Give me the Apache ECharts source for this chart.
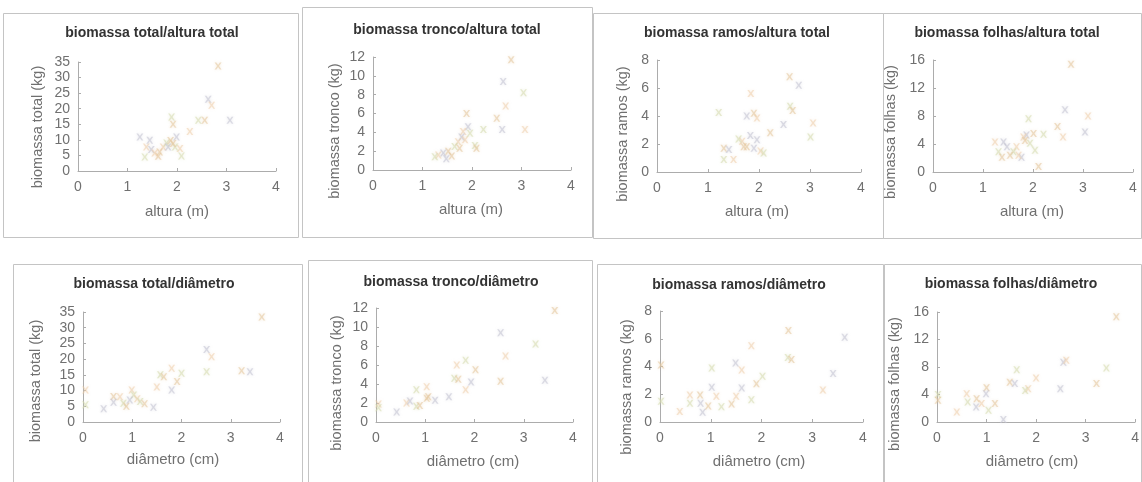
<!DOCTYPE html>
<html><head><meta charset="utf-8">
<script src="https://cdn.jsdelivr.net/npm/echarts@6/dist/echarts.min.js"></script>
<style>html,body{margin:0;padding:0;background:#fff}#c{width:1142px;height:482px}</style>
</head><body><div id="c"></div>
<script>
// ---- data ----
const titles = ['biomassa total/altura total','biomassa tronco/altura total','biomassa ramos/altura total','biomassa folhas/altura total',
                'biomassa total/diâmetro','biomassa tronco/diâmetro','biomassa ramos/diâmetro','biomassa folhas/diâmetro'];
const yNames = ['biomassa total (kg)','biomassa tronco (kg)','biomassa ramos (kg)','biomassa folhas (kg)',
                'biomassa total (kg)','biomassa tronco (kg)','biomassa ramos (kg)','biomassa folhas (kg)'];
const xNames = ['altura (m)','altura (m)','altura (m)','altura (m)','diâmetro (cm)','diâmetro (cm)','diâmetro (cm)','diâmetro (cm)'];
const yMax = [35, 12, 8, 16, 35, 12, 8, 16];
const yStep = [5, 2, 2, 4, 5, 2, 2, 4];
const xMax = 4, xStep = 1;

const totalAlturaX = [2.83,2.63,2.70,2.43,2.56,3.07,2.26,1.89,1.92,1.25,1.38,1.35,1.62,1.48,1.72,1.79,1.87,1.99,2.06,2.09,1.65,1.82,1.55,1.96,1.92,1.45];
const totalAlturaY = [33.7,23.0,21.1,16.3,16.3,16.3,12.7,17.3,15.0,10.9,7.7,4.5,4.7,6.9,7.7,9.0,9.8,10.9,7.2,4.8,6.1,7.7,5.8,7.7,8.8,9.9];
const troncoAlturaX = [2.79,2.63,2.68,3.04,2.50,2.61,3.07,2.23,1.89,1.92,1.82,2.06,2.09,1.79,1.72,1.65,1.52,1.42,1.32,1.25,1.59,1.48,1.86,1.96,1.75];
const troncoAlturaY = [11.7,9.4,6.8,8.2,5.5,4.3,4.3,4.3,6.0,4.6,4.1,2.6,2.3,3.5,3.0,2.5,2.0,1.8,1.6,1.4,1.5,1.2,3.2,3.9,2.3];
const ramosAlturaX = [2.60,2.78,1.84,1.21,1.90,1.76,1.96,2.61,2.66,2.48,3.06,3.01,2.22,1.83,1.67,1.60,1.76,1.90,2.03,2.09,1.31,1.41,1.50,1.31,1.70,1.96];
const ramosAlturaY = [6.8,6.2,5.6,4.25,4.2,4.0,3.85,4.7,4.4,3.4,3.5,2.5,2.8,2.6,2.2,2.35,1.8,1.7,1.5,1.35,1.7,1.6,0.9,0.9,1.8,2.3];
const folhasAlturaX = [2.76,2.64,3.10,1.91,2.49,3.04,2.60,2.21,2.01,1.87,1.81,2.04,2.11,1.77,1.67,1.61,1.54,1.41,1.24,1.31,1.38,1.48,1.71,1.94,1.84];
const folhasAlturaY = [15.4,8.9,8.0,7.6,6.5,5.7,5.0,5.4,5.5,5.3,5.0,3.1,0.8,2.1,3.6,2.9,2.4,4.3,4.3,2.9,2.1,3.6,2.4,4.1,4.5];
const totalDiamX = [3.63,2.51,2.61,2.51,3.22,3.39,1.80,2.00,1.91,1.80,1.50,1.57,1.64,1.43,0.99,1.03,0.62,0.62,0.75,0.82,0.88,0.95,1.10,1.16,1.25,0.42,0.05,0.05];
const totalDiamY = [33.4,23.1,20.8,16.0,16.3,16.0,17.1,15.5,12.9,10.2,11.1,15.0,14.4,4.7,10.2,8.6,8.1,6.3,8.0,6.0,5.0,7.0,7.4,6.5,5.8,4.2,10.2,5.5];
const troncoDiamX = [3.63,2.53,2.63,3.24,2.53,3.43,1.64,1.82,2.02,1.93,1.82,1.59,1.67,1.48,1.03,0.82,1.06,1.20,0.62,0.82,0.89,0.42,0.05,0.05,1.03,0.69];
const troncoDiamY = [11.75,9.4,6.95,8.2,4.3,4.4,6.0,6.5,5.5,4.2,3.4,4.6,4.5,2.65,3.7,3.4,2.65,2.3,2.0,1.65,1.75,1.05,1.9,1.5,2.5,2.2];
const ramosDiamX = [2.53,3.64,1.80,2.52,2.59,1.49,1.61,1.02,0.02,3.41,3.21,2.02,1.90,1.61,1.50,1.80,1.41,1.02,1.11,1.21,0.95,0.84,0.59,0.59,0.79,0.80,0.39,0.02];
const ramosDiamY = [6.6,6.1,5.5,4.65,4.5,4.25,3.75,3.9,4.1,3.5,2.3,3.3,2.75,2.45,1.85,1.6,1.3,2.5,1.85,1.1,1.15,0.7,1.95,1.35,1.95,1.35,0.75,1.5];
const folhasDiamX = [3.62,2.55,2.61,3.42,3.22,2.49,2.00,1.61,1.47,1.57,1.84,1.78,1.00,0.99,0.60,0.62,0.80,0.79,0.90,1.04,1.17,1.34,0.40,0.02,0.02];
const folhasDiamY = [15.3,8.7,9.0,7.85,5.6,4.85,6.4,7.6,5.8,5.6,4.85,4.6,5.0,4.1,4.1,2.9,3.4,2.2,2.7,1.7,2.7,0.35,1.45,4.0,3.15];

const seriesX = [totalAlturaX, troncoAlturaX, ramosAlturaX, folhasAlturaX, totalDiamX, troncoDiamX, ramosDiamX, folhasDiamX];
const seriesY = [totalAlturaY, troncoAlturaY, ramosAlturaY, folhasAlturaY, totalDiamY, troncoDiamY, ramosDiamY, folhasDiamY];

// ---- layout (pixels) ----
const box   = [[3,13,295,224],[302,7,290,230],[593,13,290,225],[883,13,258,225],
               [13,264,289,230],[308,260,284,234],[597,264,286,230],[884,264,257,230]];
const plots = [[78,62,198,109],[373,57,198,113],[657,60,204,112],[933,60,200,112],
               [83,312,197,110],[376,308,197,114],[660,311,203,111],[937,312,199,110]];
const titlePos = [[152,33],[447,30],[737,33],[1007,33],[154,284],[451,282],[739,285],[1011,284]];
const xNamePos = [[177,212],[471,210],[757,212],[1032,212],[173,460],[473,462],[759,462],[1032,462]];
const yNamePos = [[38,127],[335,131],[623,134],[891,132],[36,381],[337,383],[627,387],[895,384]];

const palette = ['rgba(228,200,158,0.7)','rgba(196,196,210,0.7)','rgba(238,206,168,0.65)','rgba(214,220,176,0.7)'];
const xMark = 'path://M0,0L2.5,0L5,3.5L7.5,0L10,0L6.3,5L10,10L7.5,10L5,6.5L2.5,10L0,10L3.7,5Z';

const FONT = '"Liberation Sans", Arial, sans-serif';
const grid = [], xAxis = [], yAxis = [], series = [], graphic = [];
for (let i = 0; i < 8; i++) {
  const [l,t,w,h] = plots[i];
  grid.push({left:l, top:t, width:w, height:h, containLabel:false});
  xAxis.push({type:'value', gridIndex:i, min:0, max:xMax, interval:xStep,
    axisLine:{show:true, onZero:false, lineStyle:{color:'#acacac', width:1}},
    axisTick:{show:true, inside:true, length:3, lineStyle:{color:'#acacac'}},
    splitLine:{show:false},
    axisLabel:{color:'#707070', fontSize:14, fontFamily:FONT, margin:9}});
  yAxis.push({type:'value', gridIndex:i, min:0, max:yMax[i], interval:yStep[i],
    axisLine:{show:true, onZero:false, lineStyle:{color:'#acacac', width:1}},
    axisTick:{show:true, inside:true, length:3, lineStyle:{color:'#acacac'}},
    splitLine:{show:false},
    axisLabel:{color:'#707070', fontSize:14, fontFamily:FONT, margin:8}});
  const pts = seriesX[i].map((x, k) => ({value:[x, seriesY[i][k]], itemStyle:{color: palette[k % palette.length], shadowBlur:3, shadowColor: palette[k % palette.length]}}));
  series.push({type:'scatter', xAxisIndex:i, yAxisIndex:i, data:pts, symbol:xMark, symbolSize:7, silent:true});
  const [bx,by,bw,bh] = box[i];
  graphic.push({type:'rect', shape:{x:bx+0.5, y:by+0.5, width:bw, height:bh}, style:{fill:null, stroke:'#c4c4c4', lineWidth:1}, silent:true, z:-1});
  graphic.push({type:'text', x:titlePos[i][0], y:titlePos[i][1],
    style:{text:titles[i], fontSize:14, fontWeight:'bold', fontFamily:FONT, fill:'#333333', align:'center', verticalAlign:'middle'}});
  graphic.push({type:'text', x:xNamePos[i][0], y:xNamePos[i][1],
    style:{text:xNames[i], fontSize:15, fontFamily:FONT, fill:'#707070', align:'center', verticalAlign:'middle'}});
  graphic.push({type:'text', x:yNamePos[i][0], y:yNamePos[i][1], rotation:Math.PI/2,
    style:{text:yNames[i], fontSize:14.5, fontFamily:FONT, fill:'#707070', align:'center', verticalAlign:'middle'}});
}
const chart = echarts.init(document.getElementById('c'), null, {renderer:'canvas'});
chart.setOption({animation:false, backgroundColor:'#fff', grid, xAxis, yAxis, series, graphic});
</script></body></html>
